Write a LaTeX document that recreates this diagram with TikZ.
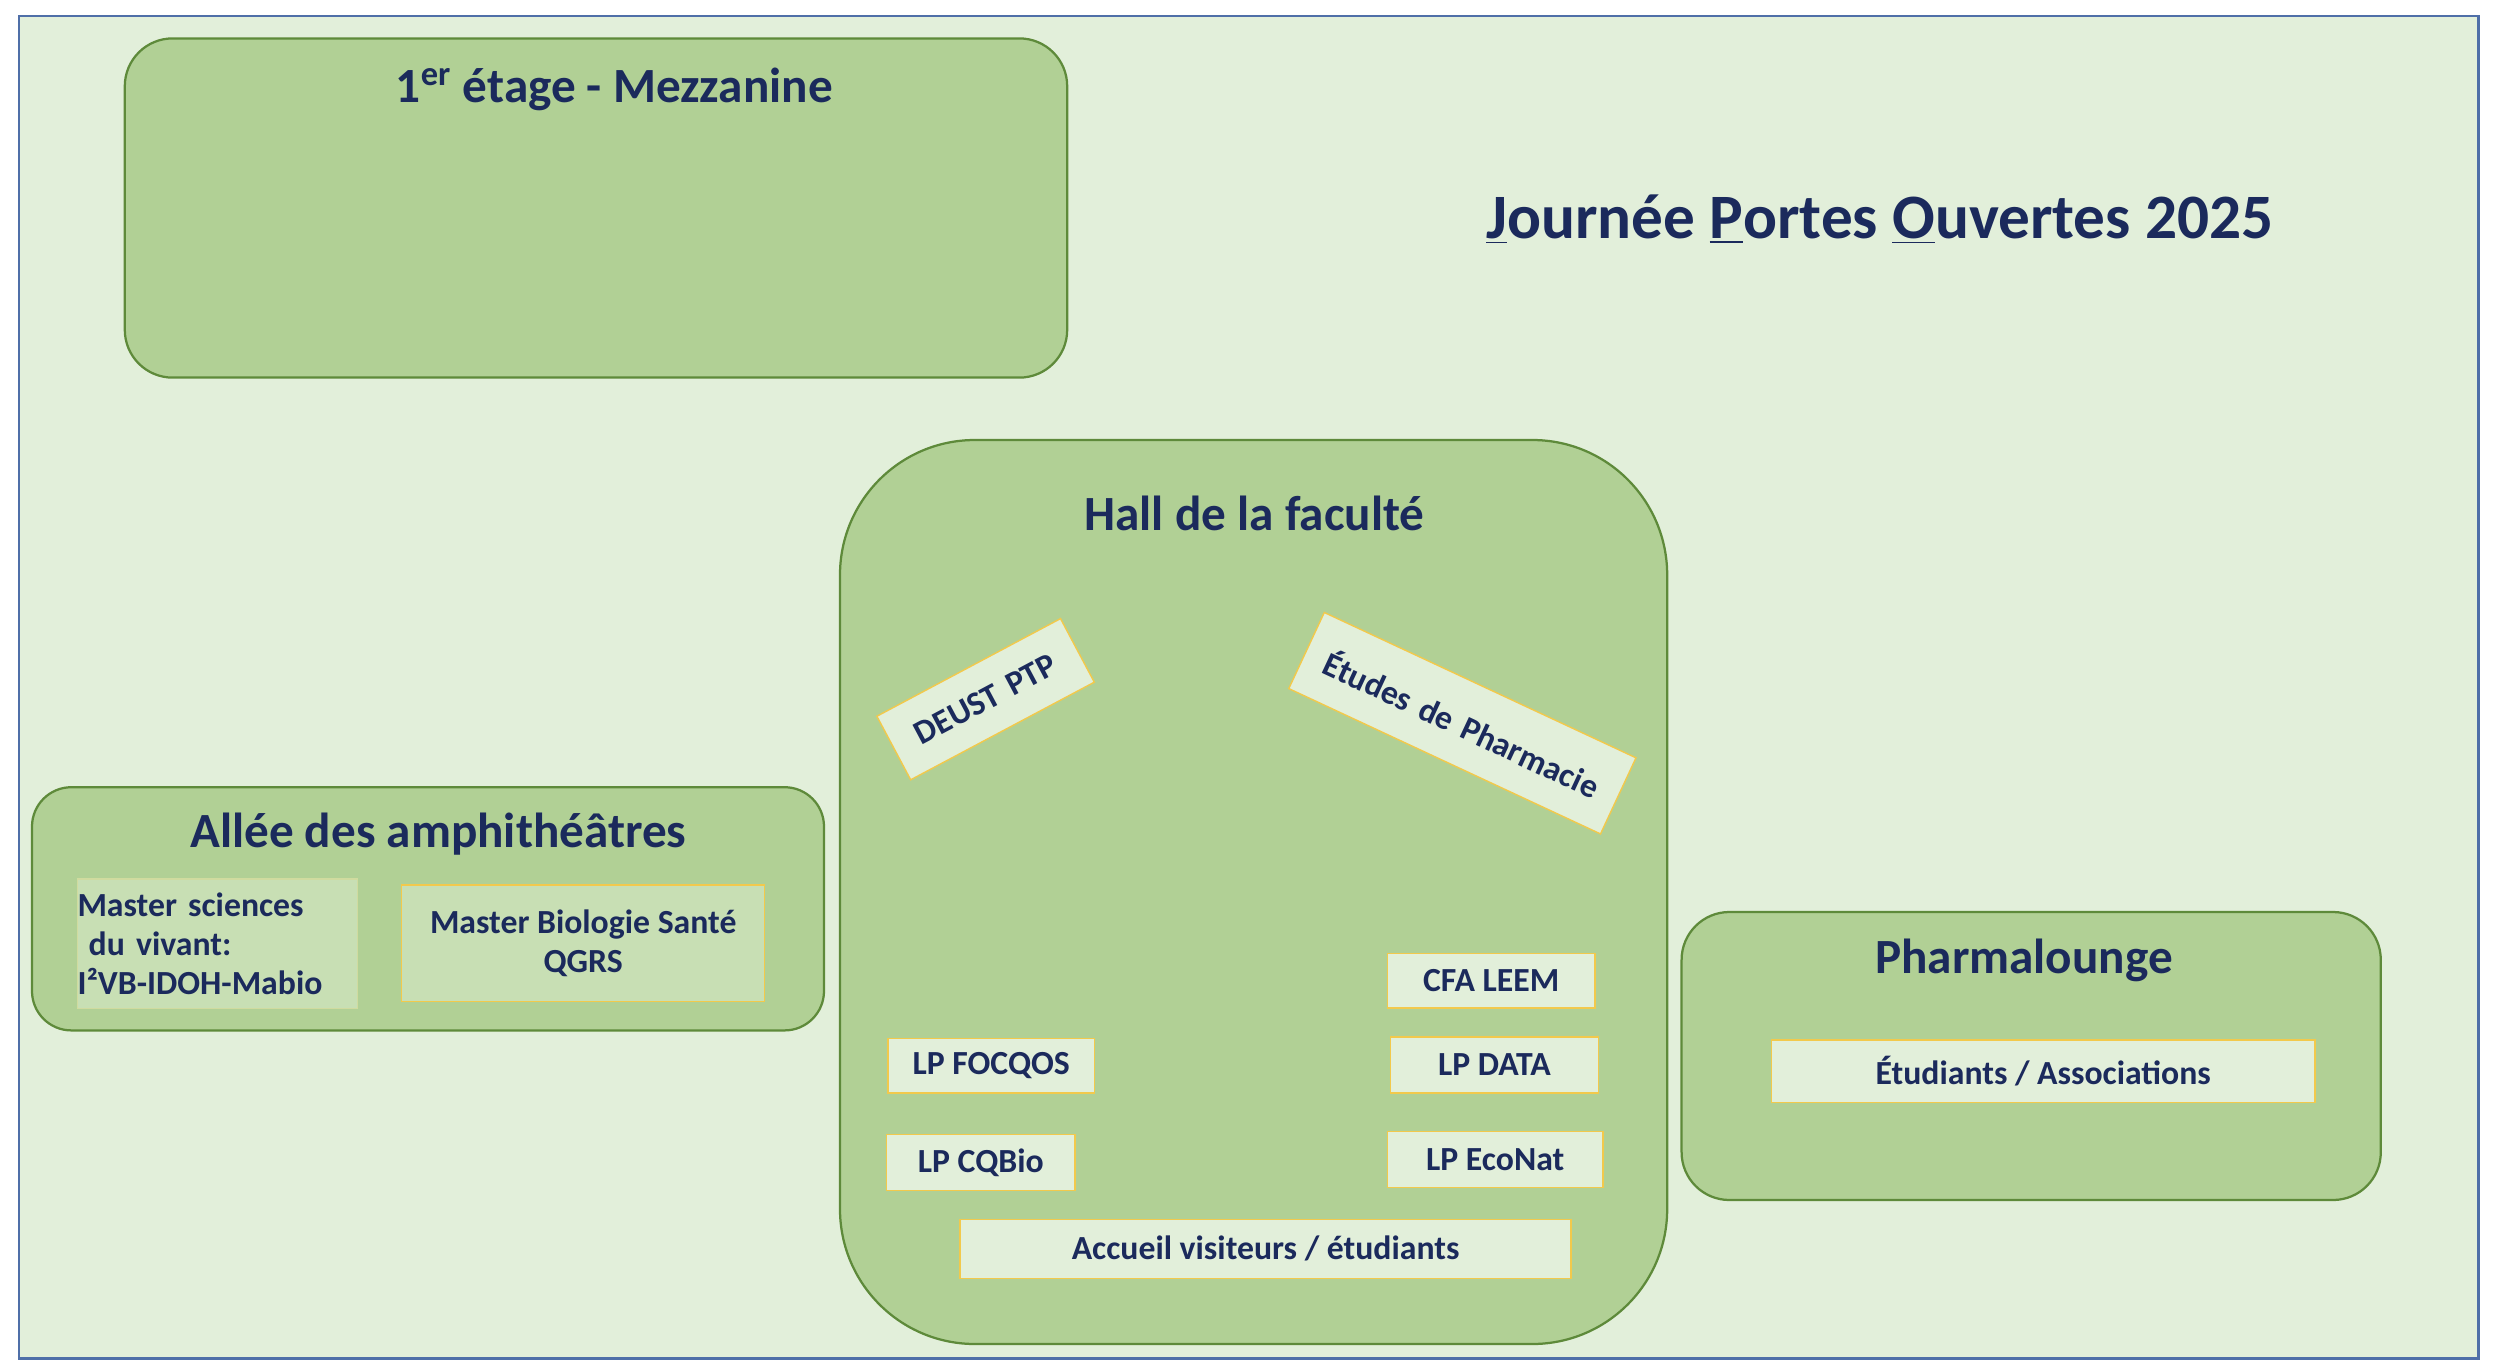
\documentclass[tikz,border=0pt]{standalone}
\usepackage{fontspec}
\setmainfont{Carlito}
\definecolor{bgc}{HTML}{E2EFDA}
\definecolor{zone}{HTML}{B1D095}
\definecolor{zonedraw}{HTML}{5E8A3A}
\definecolor{navy}{HTML}{1B2A5C}
\definecolor{frame}{HTML}{4F6FA8}
\definecolor{ylw}{HTML}{F2C94C}
\definecolor{inner}{HTML}{C8DFB4}
\begin{document}
\begin{tikzpicture}[x=0.02cm,y=-0.02cm,
  zonebox/.style={draw=zonedraw,line width=0.8pt,fill=zone},
  tag/.style={draw=ylw,line width=0.5pt,fill=bgc,text=navy,font=\bfseries\fontsize{12}{14}\selectfont,inner sep=0pt,align=center},
  ztitle/.style={text=navy,font=\bfseries\fontsize{17.5}{21}\selectfont}]
\useasboundingbox (0,0) rectangle (1560,856);
\draw[frame,fill=bgc,line width=0.8pt] (12,10) rectangle (1549,849);
% Mezzanine
\draw[zonebox,rounded corners=17pt] (78,24) rectangle (667,236);
\node[ztitle] (mez) at (384,56) {1\textsuperscript{er} étage - Mezzanine};
% Title
\node[text=navy,font=\bfseries\fontsize{22.5}{27}\selectfont] (title) at (1175,137) {\underline{J}ournée \underline{P}ortes \underline{O}uvertes 2025};
% Hall
\draw[zonebox,rounded corners=48pt] (525,275) rectangle (1042,840);
\node[ztitle] (hall) at (784,321) {Hall de la faculté};
\node[tag,rotate=28,text width=2.6cm,minimum height=0.9cm] (deust) at (616,437) {DEUST PTP};
\node[tag,rotate=-25,text width=4.3cm,minimum height=1.05cm] (etu) at (914,452) {Études de Pharmacie};
\node[tag,minimum width=2.6cm,minimum height=0.68cm] (cfa) at (932,613) {CFA LEEM};
\node[tag,minimum width=2.6cm,minimum height=0.7cm] (data) at (934,665.5) {LP DATA};
\node[tag,minimum width=2.7cm,minimum height=0.7cm] (eco) at (934.5,724.5) {LP EcoNat};
\node[tag,minimum width=2.58cm,minimum height=0.68cm] (foc) at (619.5,666) {LP FOCQOS};
\node[tag,minimum width=2.36cm,minimum height=0.7cm] (cqb) at (613,726.5) {LP CQBio};
\node[tag,minimum width=7.64cm,minimum height=0.74cm] (acc) at (791,780.5) {Accueil visiteurs / étudiants};
% Allée
\draw[zonebox,rounded corners=14pt] (20,492) rectangle (515,644);
\node[ztitle] (allee) at (274,521) {Allée des amphithéâtres};
\node[tag,fill=inner,draw=inner!80!ylw,minimum width=3.5cm,minimum height=1.62cm,align=left,anchor=north west,text width=3.5cm,inner sep=0pt] (msv) at (48,549) {Master sciences\\ \ du vivant:\\I²VB-IDOH-Mabio};
\node[tag,fill=inner,minimum width=4.54cm,minimum height=1.46cm] (mbs) at (364.5,589.5) {Master Biologie Santé\\QGRS};
% Pharmalounge
\draw[zonebox,rounded corners=17pt] (1051,570) rectangle (1488,750);
\node[ztitle] (pharma) at (1265,600) {Pharmalounge};
\node[tag,minimum width=6.8cm,minimum height=0.78cm] (etud) at (1277,669.5) {Étudiants / Associations};
\end{tikzpicture}
\end{document}
